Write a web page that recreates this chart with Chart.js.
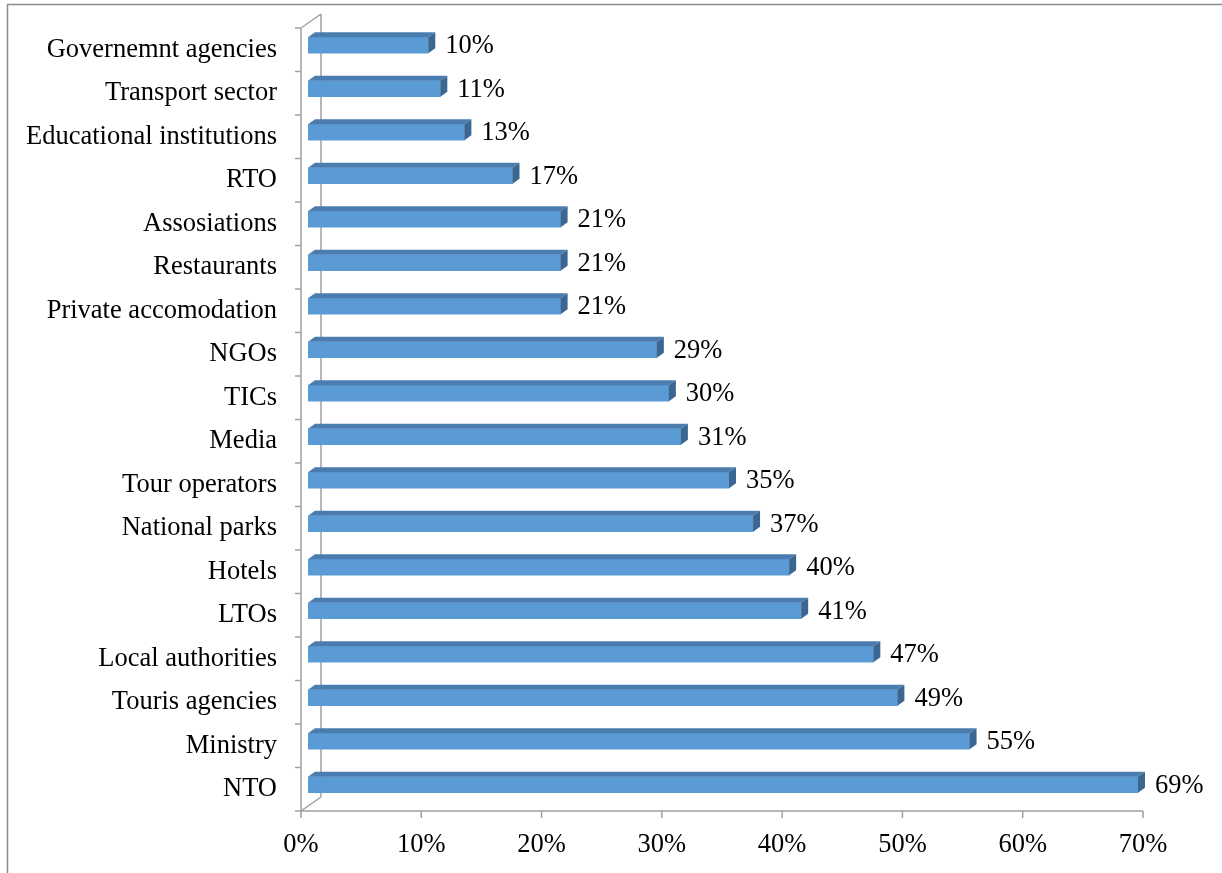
<!DOCTYPE html>
<html>
<head>
<meta charset="utf-8">
<script src="https://cdn.jsdelivr.net/npm/chart.js@4/dist/chart.umd.min.js"></script>
<style>
  html, body { margin: 0; padding: 0; background: #fff; }
  canvas { display: block; }
</style>
</head>
<body>
<canvas id="stakeholders" width="1222" height="873"></canvas>
<script>
// --- data ---
const categories = [
    'Governemnt agencies', 'Transport sector', 'Educational institutions', 'RTO',
    'Assosiations', 'Restaurants', 'Private accomodation', 'NGOs', 'TICs', 'Media',
    'Tour operators', 'National parks', 'Hotels', 'LTOs', 'Local authorities',
    'Touris agencies', 'Ministry', 'NTO'
];
const shares = [10, 11, 13, 17, 21, 21, 21, 29, 30, 31, 35, 37, 40, 41, 47, 49, 55, 69];
const axisTicks = [0, 10, 20, 30, 40, 50, 60, 70];

// --- look ---
const FONT = '"Liberation Serif", "Times New Roman", serif';
const FONT_SIZE = 26.5;
const FRONT = '#5b9bd5';
const TOP_FACE = '#4a7cb0';
const SIDE_FACE = '#3b6692';
const WALL = '#a0a0a0';
const BAR_SHIFT = { x: 7, y: -4.5 };   // bars sit a little into the depth
const BAR_DEPTH = { x: 7, y: -5 };     // bar thickness in depth
const WALL_DEPTH = { x: 20, y: -14 };  // back wall offset

// white page plus the outer frame
const framePlugin = {
    id: 'frame',
    beforeDraw(chart) {
        const ctx = chart.ctx;
        ctx.save();
        ctx.fillStyle = '#fff';
        ctx.fillRect(0, 0, chart.width, chart.height);
        ctx.strokeStyle = '#8c8c8c';
        ctx.lineWidth = 1.5;
        ctx.beginPath();
        ctx.moveTo(7.5, chart.height);
        ctx.lineTo(7.5, 4.5);
        ctx.lineTo(chart.width, 4.5);
        ctx.stroke();
        ctx.restore();
    }
};

// side wall, floor edge, tick marks and the 3D bar faces
const wallPlugin = {
    id: 'wall',
    beforeDatasetsDraw(chart) {
        const { ctx, chartArea: a, scales } = chart;
        ctx.save();
        ctx.strokeStyle = WALL;
        ctx.lineWidth = 1.5;
        ctx.beginPath();
        // front wall edge
        ctx.moveTo(a.left, a.top);
        ctx.lineTo(a.left, a.bottom);
        // back wall edge
        ctx.moveTo(a.left + WALL_DEPTH.x, a.top + WALL_DEPTH.y);
        ctx.lineTo(a.left + WALL_DEPTH.x, a.bottom + WALL_DEPTH.y);
        // diagonals
        ctx.moveTo(a.left, a.top);
        ctx.lineTo(a.left + WALL_DEPTH.x, a.top + WALL_DEPTH.y);
        ctx.moveTo(a.left, a.bottom);
        ctx.lineTo(a.left + WALL_DEPTH.x, a.bottom + WALL_DEPTH.y);
        // floor front edge
        ctx.moveTo(a.left, a.bottom);
        ctx.lineTo(a.right, a.bottom);
        // category ticks
        const band = (a.bottom - a.top) / categories.length;
        for (let i = 0; i <= categories.length; i++) {
            const y = a.top + band * i;
            ctx.moveTo(a.left - 6, y);
            ctx.lineTo(a.left, y);
        }
        // value ticks
        axisTicks.forEach(v => {
            const x = scales.x.getPixelForValue(v);
            ctx.moveTo(x, a.bottom);
            ctx.lineTo(x, a.bottom + 7);
        });
        ctx.stroke();
        ctx.restore();
    },
    beforeDatasetDraw(chart) {
        chart.ctx.save();
        chart.ctx.translate(BAR_SHIFT.x, BAR_SHIFT.y);
    },
    afterDatasetDraw(chart, args) {
        const ctx = chart.ctx;
        args.meta.data.forEach((bar, i) => {
            const { x, y, base, height } = bar.getProps(['x', 'y', 'base', 'height'], true);
            const top = y - height / 2;
            const bottom = y + height / 2;
            // top face
            ctx.fillStyle = TOP_FACE;
            ctx.beginPath();
            ctx.moveTo(base, top);
            ctx.lineTo(x, top);
            ctx.lineTo(x + BAR_DEPTH.x, top + BAR_DEPTH.y);
            ctx.lineTo(base + BAR_DEPTH.x, top + BAR_DEPTH.y);
            ctx.closePath();
            ctx.fill();
            // right face
            ctx.fillStyle = SIDE_FACE;
            ctx.beginPath();
            ctx.moveTo(x, top);
            ctx.lineTo(x, bottom);
            ctx.lineTo(x + BAR_DEPTH.x, bottom + BAR_DEPTH.y);
            ctx.lineTo(x + BAR_DEPTH.x, top + BAR_DEPTH.y);
            ctx.closePath();
            ctx.fill();
            // value label
            ctx.fillStyle = '#000';
            ctx.font = FONT_SIZE + 'px ' + FONT;
            ctx.textAlign = 'left';
            ctx.textBaseline = 'middle';
            ctx.fillText(shares[i] + '%', x + BAR_DEPTH.x + 10, y + 1);
        });
        ctx.restore();
    }
};

new Chart(document.getElementById('stakeholders'), {
    type: 'bar',
    data: {
        labels: categories,
        datasets: [{
            data: shares,
            backgroundColor: FRONT,
            borderWidth: 0,
            barThickness: 16
        }]
    },
    options: {
        indexAxis: 'y',
        responsive: false,
        animation: false,
        devicePixelRatio: 1,
        layout: { padding: { top: 28, right: 79, left: 0, bottom: 0 } },
        plugins: {
            legend: { display: false },
            tooltip: { enabled: false }
        },
        scales: {
            x: {
                min: 0,
                max: 70,
                afterBuildTicks(scale) {
                    scale.ticks = axisTicks.map(v => ({ value: v }));
                },
                afterFit(scale) {
                    scale.height = 62;
                    scale.paddingLeft = 0;
                    scale.paddingRight = 0;
                },
                grid: { display: false, drawTicks: false },
                border: { display: false },
                ticks: {
                    padding: 18,
                    color: '#000',
                    font: { family: FONT, size: FONT_SIZE },
                    callback: v => v + '%'
                }
            },
            y: {
                afterFit(scale) {
                    scale.width = 301;
                    scale.paddingTop = 0;
                    scale.paddingBottom = 0;
                },
                grid: { display: false, drawTicks: false },
                border: { display: false },
                ticks: {
                    padding: 24,
                    autoSkip: false,
                    color: '#000',
                    font: { family: FONT, size: FONT_SIZE }
                }
            }
        }
    },
    plugins: [framePlugin, wallPlugin]
});
</script>
</body>
</html>
